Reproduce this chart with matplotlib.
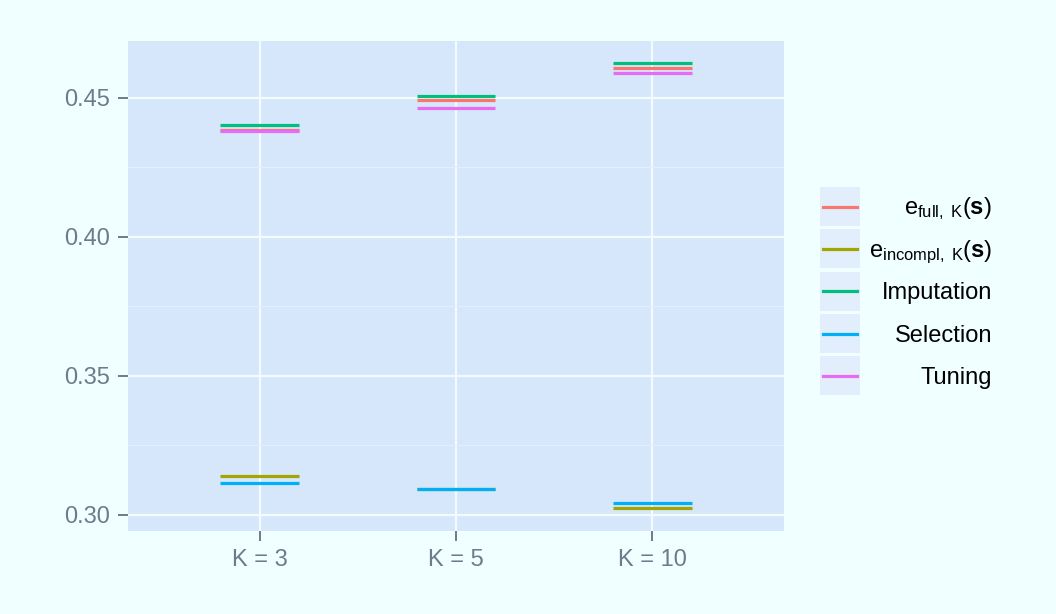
import matplotlib
matplotlib.use("Agg")
import matplotlib.pyplot as plt
from matplotlib.patches import Rectangle
from matplotlib.lines import Line2D
import numpy as np

# ---------------------------------------------------------------
# data
# ---------------------------------------------------------------
categories = ["K = 3", "K = 5", "K = 10"]
series_names = ["e_full", "e_incompl", "Imputation", "Selection", "Tuning"]
legend_labels = [
    r"$\mathrm{e}_{\mathrm{full,\ K}}(\mathbf{s})$",
    r"$\mathrm{e}_{\mathrm{incompl,\ K}}(\mathbf{s})$",
    "Imputation",
    "Selection",
    "Tuning",
]
e_full = [0.4384, 0.4492, 0.4609]
e_incompl = [0.3139, 0.3092, 0.3024]
imputation = [0.4402, 0.4506, 0.4626]
selection = [0.3114, 0.3092, 0.3042]
tuning = [0.4383, 0.4464, 0.4589]
y_ticks = [0.30, 0.35, 0.40, 0.45]
y_minor = [0.325, 0.375, 0.425]

colors = ["#F8766D", "#A3A500", "#00BF7D", "#00B0F6", "#E76BF3"]

# ---------------------------------------------------------------
# style
# ---------------------------------------------------------------
plt.rcParams["font.family"] = ["Liberation Sans", "DejaVu Sans"]
plt.rcParams["mathtext.fontset"] = "custom"
plt.rcParams["mathtext.rm"] = "Liberation Sans"
plt.rcParams["mathtext.it"] = "Liberation Sans:italic"
plt.rcParams["mathtext.bf"] = "Liberation Sans:bold"

fig_bg = "#F0FFFF"
panel_bg = "#D6E6FB"
key_bg = "#E2EEFB"
tick_col = "#6E7B8B"

W, H = 1056, 614
fig = plt.figure(figsize=(W / 100, H / 100), dpi=100, facecolor=fig_bg)
ax = fig.add_axes([128 / W, 1 - 531 / H, (784 - 128) / W, (531 - 41) / H])
ax.set_facecolor(panel_bg)

x = np.arange(len(categories))
half = 0.2
all_series = [e_full, e_incompl, imputation, selection, tuning]
for vals, col in zip(all_series, colors):
    ax.hlines(vals, x - half, x + half, colors=col, linewidth=2.3, zorder=3)

ax.set_xlim(-0.67, 2.67)
ax.set_ylim(0.29424, 0.4705)
ax.set_xticks(x)
ax.set_xticklabels(categories)
ax.set_yticks(y_ticks)
ax.set_yticklabels([f"{v:.2f}" for v in y_ticks])
ax.set_yticks(y_minor, minor=True)

ax.grid(which="major", color="#F2FCFF", linewidth=1.6, zorder=1)
ax.grid(which="minor", axis="y", color="#E4EFFD", linewidth=0.8, zorder=1)
ax.set_axisbelow(True)
for s in ax.spines.values():
    s.set_visible(False)

ax.tick_params(axis="both", which="major", length=7, width=1.4, color=tick_col,
               labelcolor=tick_col, labelsize=17, pad=6)
ax.tick_params(axis="y", which="minor", length=0)

# ---------------------------------------------------------------
# legend (drawn by hand, right aligned labels as in ggplot)
# ---------------------------------------------------------------
tr = fig.transFigure
key_top = [187, 229.3, 271.6, 314, 356.3]
key_h = 39
for top, col, lab in zip(key_top, colors, legend_labels):
    fig.add_artist(Rectangle((820 / W, 1 - (top + key_h) / H), 40 / W, key_h / H,
                             transform=tr, facecolor=key_bg, edgecolor="none"))
    cy = top + key_h / 2
    fig.add_artist(Line2D([823 / W, 857 / W], [1 - cy / H, 1 - cy / H],
                          transform=tr, color=col, linewidth=2.3))
    fig.text(992 / W, 1 - (cy + 8) / H, lab, ha="right", va="baseline",
             fontsize=17, color="black")

fig.savefig("out.png", dpi=100, facecolor=fig_bg)
